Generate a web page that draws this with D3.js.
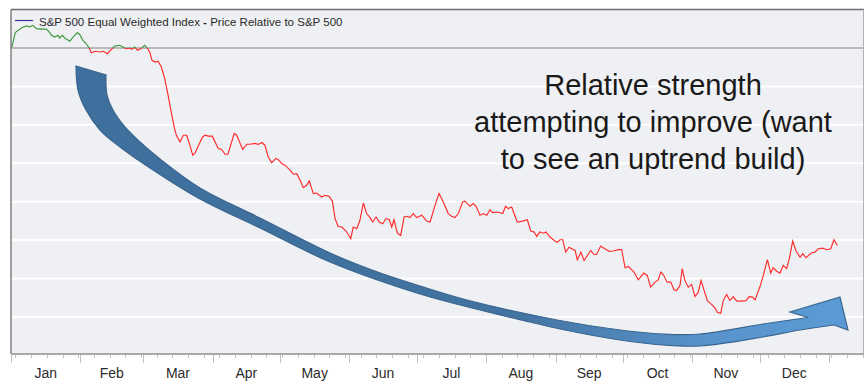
<!DOCTYPE html>
<html><head><meta charset="utf-8">
<script src="https://cdn.jsdelivr.net/npm/d3@7/dist/d3.min.js"></script>
<style>html,body{margin:0;padding:0;background:#fff;}svg{display:block;}</style>
</head><body>
<svg id="chart" width="865" height="382"></svg>
<script>
// ---- data (days after Jan 1, relative-strength index, baseline = 100) ----
const dayOffsets = [0.4,1.9,4.6,6.8,8.3,9.8,11.3,13.5,15.8,17.3,
18.0,19.5,21.0,21.7,22.9,24.0,26.2,27.7,29.6,30.7,
32.1,33.6,35.1,35.8,37.6,39.6,41.1,43.0,44.8,46.3,
48.5,50.0,51.4,53.0,54.0,55.2,56.4,57.9,59.7,60.8,
61.9,62.9,64.4,65.6,67.1,68.6,70.1,71.5,73.0,73.8,
75.4,76.9,78.4,79.4,81.1,82.1,83.7,85.5,86.6,88.0,
89.8,92.5,94.0,95.5,96.8,99.6,100.7,103.4,105.2,106.6,
108.9,110.3,111.9,113.3,114.8,116.3,118.2,119.3,120.8,122.3,
124.5,126.0,127.5,129.0,130.4,131.9,133.1,134.9,136.4,138.6,
140.1,141.9,143.4,144.6,146.0,147.6,149.5,151.6,152.7,154.3,
155.7,157.2,158.7,160.2,161.4,162.9,164.3,165.9,167.3,168.8,
169.9,170.9,172.4,173.9,175.4,176.8,178.0,179.5,181.0,183.3,
185.5,187.0,189.2,191.0,192.9,195.1,196.6,198.1,199.6,201.5,
202.6,204.8,206.3,207.5,209.3,210.7,212.3,213.7,214.9,217.0,
219.4,220.7,221.9,223.4,225.9,228.3,230.4,231.9,233.4,234.6,
236.0,237.5,238.7,240.5,242.7,243.8,245.0,246.2,247.5,249.0,
251.7,252.7,254.3,255.7,258.7,260.1,261.3,263.1,265.0,267.0,
268.7,271.0,272.5,274.0,275.4,278.0,279.9,282.4,283.9,285.4,
287.4,288.8,289.9,291.1,292.8,294.4,295.8,297.0,298.5,299.5,
300.7,302.2,303.7,305.2,306.7,307.9,309.2,310.7,312.7,314.1,
315.2,316.7,317.8,319.3,320.8,322.3,323.8,325.6,328.0,329.4,
330.9,332.0,334.2,335.7,337.5,339.0,340.1,341.7,343.1,344.6,
346.1,347.3,348.8,350.3,352.1,353.3,354.7,357.3,358.7,360.2,
362.2,364.0,365.8,367.2,368.7];

const relValues = [100.05,100.80,101.04,101.15,101.10,101.18,101.01,100.98,100.98,100.80,
100.66,100.57,100.66,100.52,100.66,100.52,100.35,100.57,100.80,100.69,
100.40,100.22,99.96,99.75,99.83,99.79,99.83,99.70,99.93,100.10,
100.14,100.05,99.96,100.00,99.93,100.05,99.88,99.96,100.14,100.00,
99.79,99.36,99.27,99.31,99.01,98.40,97.53,96.66,95.79,95.45,
95.11,95.46,95.46,95.10,94.42,94.52,94.94,95.37,95.46,95.41,
95.41,94.77,94.72,94.47,94.47,95.55,95.46,94.72,94.99,94.99,
95.03,94.98,95.08,94.94,94.33,94.02,94.25,94.19,93.98,93.90,
93.64,93.43,93.46,93.11,92.73,92.85,93.08,92.42,92.45,92.24,
92.33,92.28,92.03,91.12,90.71,90.68,90.47,90.07,90.68,90.59,
91.03,91.93,91.38,91.17,90.94,91.20,90.94,90.85,91.12,91.06,
90.68,91.06,90.36,90.24,91.20,91.24,91.17,91.38,91.17,91.29,
90.99,90.94,91.81,92.42,91.98,91.38,91.24,91.17,91.38,91.98,
92.03,91.76,91.90,91.76,91.29,91.38,91.29,91.58,91.43,91.46,
91.38,91.76,91.64,91.72,90.94,90.99,91.06,90.47,90.42,90.19,
90.42,90.36,90.42,90.16,89.95,89.89,90.02,90.02,89.37,89.63,
89.46,88.98,89.37,88.94,89.46,89.25,89.25,89.69,89.55,89.41,
89.43,89.50,89.50,88.56,88.63,88.33,87.93,88.28,88.16,87.55,
87.81,87.93,88.33,88.19,87.81,87.81,87.41,87.37,87.64,88.51,
87.90,87.55,87.69,87.06,87.29,87.90,87.41,86.85,86.64,86.47,
86.24,86.19,86.85,87.17,86.85,87.06,86.82,86.82,86.85,87.06,
87.03,86.89,87.58,88.16,88.98,88.28,88.56,88.38,88.28,88.68,
88.51,89.03,89.95,89.43,89.11,89.29,89.08,89.34,89.37,89.55,
89.58,89.50,89.55,90.02,89.72];

const baselineValue = 100;
const gridValues = [86, 88, 90, 92, 94, 96, 98];
const monthLabels = ["Jan","Feb","Mar","Apr","May","Jun","Jul","Aug","Sep","Oct","Nov","Dec"];
const legendLabel = ["S&P 500 Equal Weighted Index ", "-", " Price Relative to S&P 500"];
const noteLines = ["Relative strength", "attempting to improve (want", "to see an uptrend build)"];

// ---- layout ----
const W = 865, H = 382;
const P = {left: 11, right: 864, top: 9.5, bottom: 354};
const startDate = new Date(2022, 0, 1), endDate = new Date(2023, 0, 1);
const DAY = 864e5;
const narrowFont = "'Liberation Sans Narrow','Arial Narrow','Liberation Sans',Arial,sans-serif";

const svg = d3.select("#chart");
const x = d3.scaleTime().domain([startDate, endDate]).range([11, 829]);
const y = d3.scaleLinear().domain([84.07, 102]).range([P.bottom, P.top + 0.07]);

const data = dayOffsets.map((d, i) => ({date: new Date(startDate.getTime() + d * DAY), v: relValues[i]}));

// background
svg.append("rect").attr("x", P.left).attr("y", P.top).attr("width", P.right - P.left).attr("height", P.bottom - P.top).attr("fill", "#eff0f3");

// gridlines
svg.append("g").selectAll("line").data(gridValues).join("line")
  .attr("x1", P.left).attr("x2", P.right)
  .attr("y1", d => y(d)).attr("y2", d => y(d))
  .attr("stroke", "#ffffff").attr("stroke-width", 2);
svg.append("line").attr("x1", P.left).attr("x2", P.right)
  .attr("y1", y(baselineValue)).attr("y2", y(baselineValue))
  .attr("stroke", "#a9a9a9").attr("stroke-width", 1.3);

// clip paths for above / below baseline
const defs = svg.append("defs");
defs.append("clipPath").attr("id", "above").append("rect")
  .attr("x", P.left).attr("y", P.top).attr("width", P.right - P.left).attr("height", y(baselineValue) - P.top);
defs.append("clipPath").attr("id", "below").append("rect")
  .attr("x", P.left).attr("y", y(baselineValue)).attr("width", P.right - P.left).attr("height", P.bottom - y(baselineValue));

const line = d3.line().x(d => x(d.date)).y(d => y(d.v));
svg.append("path").datum(data).attr("d", line).attr("fill", "none")
  .attr("stroke", "#3d9b3d").attr("stroke-width", 1.15).attr("clip-path", "url(#above)");
svg.append("path").datum(data).attr("d", line).attr("fill", "none")
  .attr("stroke", "#ff2b2b").attr("stroke-width", 1.15).attr("clip-path", "url(#below)");

// borders
svg.append("line").attr("x1", P.left).attr("x2", P.right).attr("y1", P.top).attr("y2", P.top).attr("stroke", "#6e6e6e").attr("stroke-width", 1.3);
svg.append("line").attr("x1", P.left).attr("x2", P.left).attr("y1", P.top).attr("y2", P.bottom).attr("stroke", "#6e6e6e").attr("stroke-width", 1.3);
svg.append("line").attr("x1", P.right - 0.5).attr("x2", P.right - 0.5).attr("y1", P.top).attr("y2", P.bottom).attr("stroke", "#b4b4b4").attr("stroke-width", 1);
svg.append("line").attr("x1", P.left).attr("x2", P.right).attr("y1", P.bottom).attr("y2", P.bottom).attr("stroke", "#a8a8a8").attr("stroke-width", 2);

// x axis ticks
const axisEnd = x.invert(P.right);
const monthStarts = d3.timeMonth.range(startDate, axisEnd);
const weekTicks = d3.timeMonday.range(startDate, axisEnd);
const axisG = svg.append("g").attr("transform", `translate(0,${P.bottom + 1})`);
axisG.selectAll("line.minor").data(weekTicks).join("line").attr("class", "minor")
  .attr("x1", d => Math.round(x(d)) + 0.5).attr("x2", d => Math.round(x(d)) + 0.5)
  .attr("y1", 0).attr("y2", 3).attr("stroke", "#c4c4c4");
axisG.selectAll("line.major").data(monthStarts.concat([endDate])).join("line").attr("class", "major")
  .attr("x1", d => Math.round(x(d)) + 0.5).attr("x2", d => Math.round(x(d)) + 0.5)
  .attr("y1", 0).attr("y2", 8).attr("stroke", "#c4c4c4");
axisG.selectAll("text").data(monthLabels).join("text")
  .attr("x", (d, i) => (x(d3.timeMonth.offset(startDate, i)) + x(d3.timeMonth.offset(startDate, i + 1))) / 2)
  .attr("y", 23).attr("text-anchor", "middle")
  .attr("font-family", narrowFont)
  .attr("font-size", 14).attr("fill", "#2b2b2b").text(d => d);

// legend: pieces laid out side by side, scaled to the reference width
svg.append("line").attr("x1", 15).attr("x2", 33).attr("y1", 20.5).attr("y2", 20.5).attr("stroke", "#333399").attr("stroke-width", 1.2);
const legendG = svg.append("g");
const legendWidth = 304;
let legendSize = 14.5;
function layoutLegend(size) {
  legendG.selectAll("text").remove();
  let cx = 39;
  legendLabel.forEach((t, i) => {
    const el = legendG.append("text").attr("x", cx).attr("y", 26)
      .attr("font-family", narrowFont).attr("font-size", size)
      .attr("font-weight", i === 1 ? "bold" : "normal")
      .attr("fill", "#2a2a2a").attr("xml:space", "preserve")
      .style("white-space", "pre").text(t);
    cx += el.node().getComputedTextLength();
  });
  return cx - 39;
}
const w0 = layoutLegend(legendSize);
if (w0 > 0) layoutLegend(legendSize * legendWidth / w0);

// curved arrow annotation
const grad = defs.append("linearGradient").attr("id", "arrowGrad").attr("gradientUnits", "userSpaceOnUse")
  .attr("x1", 76).attr("y1", 0).attr("x2", 850).attr("y2", 0);
[[0, "#3f6f9d"], [0.55, "#42729f"], [0.82, "#5893cc"], [1, "#5b9bd5"]].forEach(s =>
  grad.append("stop").attr("offset", s[0]).attr("stop-color", s[1]));
const outerEdge = [[76,66],[78,90],[86,110],[100,130],[120,147],[150,168],[200,199],[260,228],[330,262],[420,294],[480,310],[530,322],[560,329],[620,340],[663,345],[700,346],[763,337],[800,330],[834,325]];
const headPts = [[848,330],[840,297],[790,312]];
const innerEdge = [[808,317.5],[763,324],[700,334],[663,334],[620,330],[557,320],[467,300],[420,286],[372,270],[330,253],[260,218],[200,188],[160,159],[140,142],[125,127],[113,110],[107,95],[106,75]];
const edge = d3.line().curve(d3.curveCatmullRom.alpha(0.5));
const arrowD = edge(outerEdge) + headPts.map(p => `L${p[0]},${p[1]}`).join("") + edge(innerEdge).replace(/^M/, "L") + "Z";
svg.append("path").attr("d", arrowD).attr("fill", "url(#arrowGrad)").attr("stroke", "#3a6690").attr("stroke-width", 1.2).attr("stroke-linejoin", "miter");

// annotation text
svg.append("g").selectAll("text").data(noteLines).join("text")
  .attr("x", 653).attr("y", (d, i) => 95 + i * 37)
  .attr("text-anchor", "middle")
  .attr("font-family", "'Liberation Sans',Arial,sans-serif")
  .attr("font-size", 29).attr("fill", "#1a1a1a").text(d => d);
</script>
</body></html>
